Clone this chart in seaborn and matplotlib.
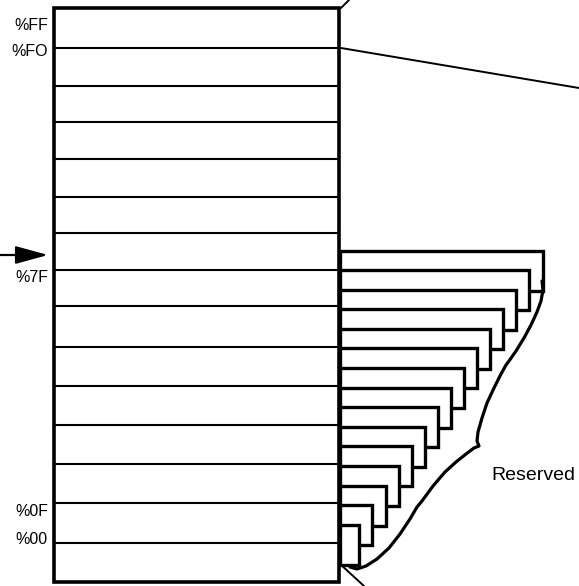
"""
plot.py
-------
Memory map diagram: address blocks with a stacked fan of reserved pages.
"""

import matplotlib
matplotlib.use("Agg")
import matplotlib.pyplot as plt
import seaborn as sns
from matplotlib.patches import Rectangle

# Main column: y of each horizontal rule (top border ... bottom border)
row_edges = [8, 48, 86, 122, 159, 197, 233, 270, 306, 347, 386, 425, 464, 503, 543, 582]
box_left, box_right = 54, 339

# Address labels on the left
addr_labels = ["%FF", "%FO", "%7F", "%0F", "%00"]
addr_y = [25, 52, 277, 512, 540]

# Fanned pages on the right (top and right edge of each page)
page_tops = [251, 270, 290, 309, 329, 348, 368, 388, 407, 427, 446, 466, 486, 505, 525]
page_rights = [543, 529, 516, 503, 490, 477, 464, 451, 438, 425, 412, 399, 386, 372, 359]
page_height = 40

# Brace around the reserved area
brace_x = [542, 543, 541, 537, 531, 524, 516, 509, 506, 501, 494, 487, 482, 478, 477, 479,
           474, 466, 456, 445, 433, 422, 417, 410, 400, 389, 377, 366, 357, 350]
brace_y = [281, 290, 301, 312, 325, 338, 351, 361, 365, 374, 388, 403, 418, 432, 441, 446,
           448, 454, 462, 472, 486, 501, 507, 519, 534, 548, 559, 566, 569, 567]

# Leader lines
leaders = [((341, 48), (579, 88)), ((341, 8), (349, 0)), ((340, 564), (364, 586))]
arrow_y, arrow_tip = 255, 48


def draw():
    sns.set_theme(style="white")
    plt.rcParams["font.family"] = ["Liberation Sans", "DejaVu Sans"]

    fig = plt.figure(figsize=(5.79, 5.86), dpi=100)
    ax = fig.add_axes([0, 0, 1, 1])
    ax.set_xlim(0, 579)
    ax.set_ylim(586, 0)
    ax.axis("off")

    # main column
    ax.hlines(row_edges[1:-1], box_left, box_right, color="black", lw=1.5, zorder=2)
    ax.add_patch(Rectangle((box_left, row_edges[0]), box_right - box_left,
                           row_edges[-1] - row_edges[0], fill=False,
                           edgecolor="black", lw=2.6, zorder=3))

    for lab, y in zip(addr_labels, addr_y):
        ax.text(48, y, lab, ha="right", va="center", fontsize=11.5, color="black")

    # fanned pages, later pages in front
    for i, (top, right) in enumerate(zip(page_tops, page_rights)):
        ax.add_patch(Rectangle((box_right + 1, top), right - box_right - 1, page_height,
                               facecolor="white", edgecolor="black", lw=2.4,
                               joinstyle="miter", zorder=4 + i))

    sns.lineplot(x=brace_x, y=brace_y, sort=False, estimator=None, color="black",
                 lw=2.3, ax=ax, zorder=30)

    for (x0, y0), (x1, y1) in leaders:
        ax.plot([x0, x1], [y0, y1], color="black", lw=1.4, zorder=30)

    ax.annotate("", xy=(arrow_tip, arrow_y), xytext=(0, arrow_y),
                arrowprops=dict(arrowstyle="-|>,head_length=0.8,head_width=0.22",
                                mutation_scale=25, lw=1.6, color="black",
                                shrinkA=0, shrinkB=0))

    ax.text(491, 475, "Reserved", ha="left", va="center", fontsize=14, color="black")

    plt.savefig("out.png", dpi=100)
    plt.close()


if __name__ == "__main__":
    draw()
